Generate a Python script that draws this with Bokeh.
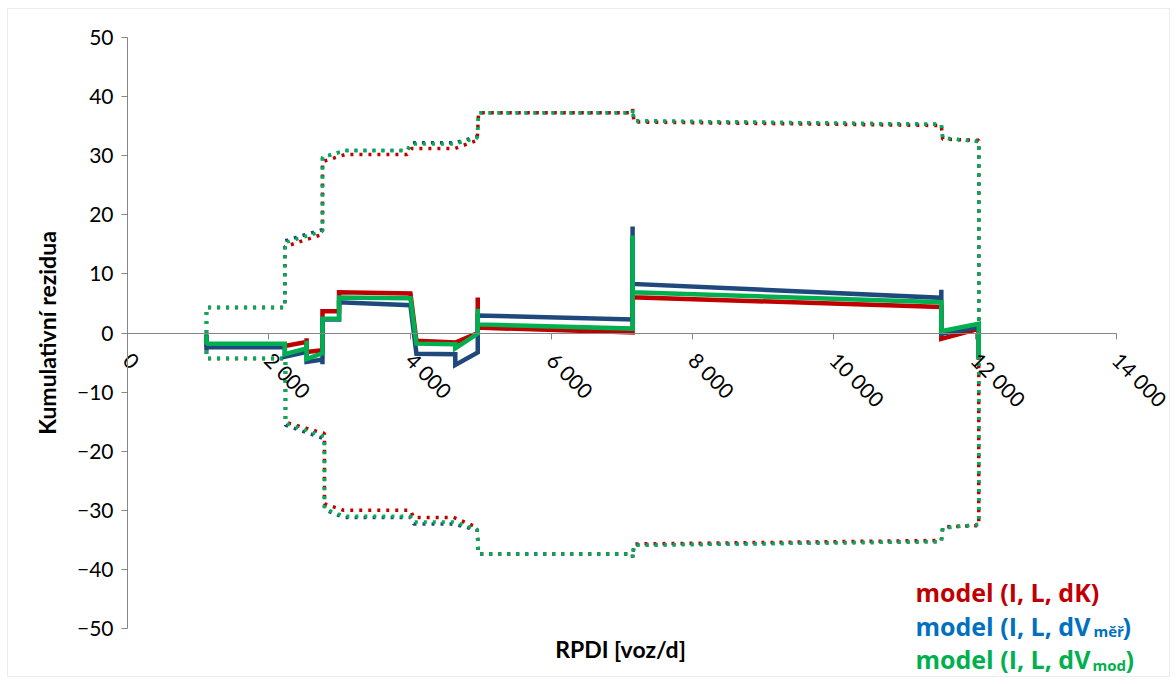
import math

from bokeh.plotting import figure
from bokeh.models import FixedTicker, Label, Range1d, BoxAnnotation
from bokeh.embed import file_html
from bokeh.resources import INLINE

# --- cumulative residuals of the three models (vertices along RPDI) ---
rpdi_model = [1118, 1118, 1118, 2227, 2227, 2535, 2535, 2535, 2760, 2760, 2760,
              2995, 2995, 4005, 4090, 4640, 4640, 4958, 4958, 4958, 7150, 7150,
              7150, 11520, 11520, 11520, 12050, 12050]
res_dk = [-0.4, -2.0, -2.0, -2.0, -2.2, -1.5, -0.9, -3.2, -2.9, -2.9, 3.7,
          3.7, 6.9, 6.7, -1.3, -1.6, -1.6, 0.0, 6.0, 0.9, 0.1, 16.0,
          6.05, 4.4, 4.4, -1.0, 0.7, -4.5]
res_dv_mer = [-0.4, -3.0, -2.4, -2.4, -4.0, -3.2, -2.5, -4.9, -4.5, -5.3, 2.3,
              2.3, 5.2, 4.7, -3.5, -3.6, -5.4, -3.3, 2.95, 2.95, 2.3, 18.0,
              8.3, 5.95, 7.3, -0.15, 1.0, -4.5]
res_dv_mod = [-0.4, -2.0, -1.8, -1.8, -3.6, -2.6, -1.3, -4.4, -3.4, -3.4, 2.4,
              2.4, 6.0, 5.9, -1.8, -1.9, -2.6, -0.1, 4.1, 1.45, 0.75, 16.5,
              6.9, 5.2, 5.2, 0.3, 1.55, -4.4]

# --- upper confidence limits ---
rpdi_upper = [1118, 1118, 2227, 2227, 2760, 2760, 3080, 3960, 4020, 4630, 4950,
              4970, 7150, 7150, 7170, 11520, 11540, 12050, 12050]
upper_dk = [0, 4.3, 4.3, 14.6, 16.7, 29.0, 30.2, 30.2, 31.2, 31.2, 32.6,
            37.25, 37.25, 37.9, 35.7, 35.1, 32.8, 32.6, 0]
upper_dv_mer = [0, 4.3, 4.3, 15.6, 17.5, 29.7, 30.9, 30.9, 32.2, 32.2, 33.2,
                37.25, 37.25, 37.9, 35.9, 35.3, 33.0, 32.4, 0]
upper_dv_mod = [0, 4.3, 4.3, 15.3, 17.2, 29.7, 30.9, 30.9, 32.0, 32.0, 33.0,
                37.25, 37.25, 37.9, 35.9, 35.3, 33.0, 32.4, 0]

# --- lower confidence limits ---
rpdi_lower = [1118, 1118, 2236, 2236, 2788, 2788, 3060, 4005, 4050, 4615, 4950,
              4968, 7150, 7150, 7170, 11520, 11540, 12050, 12050]
lower_dk = [0, -4.3, -4.3, -15.1, -17.0, -28.9, -30.0, -30.0, -31.2, -31.2, -32.9,
            -37.4, -37.4, -38.0, -35.7, -35.1, -32.8, -32.6, 0]
lower_dv_mer = [0, -4.3, -4.3, -15.6, -17.9, -29.9, -31.2, -31.2, -32.3, -32.3, -33.4,
                -37.4, -37.4, -38.0, -35.9, -35.3, -33.0, -32.4, 0]
lower_dv_mod = [0, -4.3, -4.3, -15.3, -17.5, -29.7, -31.0, -31.0, -32.0, -32.0, -33.2,
                -37.4, -37.4, -38.0, -35.9, -35.3, -33.0, -32.4, 0]

# --- axes ---
x_ticks = [0, 2000, 4000, 6000, 8000, 10000, 12000, 14000]
x_tick_labels = ["0", "2 000", "4 000", "6 000", "8 000", "10 000", "12 000", "14 000"]
y_ticks = [-50, -40, -30, -20, -10, 0, 10, 20, 30, 40, 50]

series_names = ["model (I, L, dK)", "model (I, L, dV", "model (I, L, dV"]
series_subscripts = ["", "měř", "mod"]

RED = "#C00000"
BLUE = "#1F497D"
GREEN = "#00B050"
LEGEND_COLORS = [RED, "#0070C0", GREEN]
AXIS_GRAY = "#868686"
FONT = "Lato"
LEGEND_FONT = "Open Sans"

W, H = 1176, 684
# axes box: x 0..14000 over pixels 127..1116, y -50..50 over pixels 628..37
X0_PX, X1_PX = 127, 1116
Y_TOP_PX, Y_BOT_PX = 37, 628
x_per_px = 14000 / (X1_PX - X0_PX)
y_per_px = 100 / (Y_BOT_PX - Y_TOP_PX)
y0_px = (Y_TOP_PX + Y_BOT_PX) / 2


def px_to_x(px):
    return (px - X0_PX) * x_per_px


def py_to_y(py):
    return (y0_px - py) * y_per_px


p = figure(width=W, height=H,
           x_range=Range1d(px_to_x(0), px_to_x(W)),
           y_range=Range1d(py_to_y(H), py_to_y(0)),
           output_backend="svg", toolbar_location=None,
           min_border=0, min_border_left=0, min_border_right=0,
           min_border_top=0, min_border_bottom=0)
p.background_fill_color = "white"
p.border_fill_color = "white"
p.outline_line_color = None
p.xgrid.visible = False
p.ygrid.visible = False

# x axis crossing at zero residual
xa = p.xaxis[0]
xa.fixed_location = 0
xa.bounds = (0, 14000)
xa.ticker = FixedTicker(ticks=x_ticks)
xa.major_label_overrides = {t: s for t, s in zip(x_ticks, x_tick_labels)}
xa.major_label_orientation = -math.pi / 4
xa.axis_line_color = AXIS_GRAY
xa.major_tick_line_color = AXIS_GRAY
xa.major_tick_out = 6
xa.major_tick_in = 0
xa.minor_tick_line_color = None
xa.major_label_text_font = FONT
xa.major_label_text_font_size = "21px"
xa.major_label_text_color = "#000000"
xa.major_label_standoff = 17

# y axis at RPDI = 0
ya = p.yaxis[0]
ya.fixed_location = 0
ya.bounds = (-50, 50)
ya.ticker = FixedTicker(ticks=y_ticks)
ya.axis_line_color = AXIS_GRAY
ya.major_tick_line_color = AXIS_GRAY
ya.major_tick_out = 6
ya.major_tick_in = 0
ya.minor_tick_line_color = None
ya.major_label_text_font = FONT
ya.major_label_text_font_size = "21px"
ya.major_label_text_color = "#000000"
ya.major_label_standoff = 8
ya.axis_label = "Kumulativní rezidua"
ya.axis_label_text_font = FONT
ya.axis_label_text_font_style = "bold"
ya.axis_label_text_font_size = "23px"
ya.axis_label_text_color = "#000000"
ya.axis_label_standoff = 13

# x axis title
p.add_layout(Label(x=px_to_x(620), y=py_to_y(648), text="RPDI [voz/d]",
                   text_font=FONT, text_font_style="bold", text_font_size="23px",
                   text_color="#000000", text_align="center", text_baseline="middle"))

# confidence bands (dotted)
for xs, ys, c in [(rpdi_upper, upper_dk, RED), (rpdi_upper, upper_dv_mer, BLUE),
                  (rpdi_upper, upper_dv_mod, GREEN),
                  (rpdi_lower, lower_dk, RED), (rpdi_lower, lower_dv_mer, BLUE),
                  (rpdi_lower, lower_dv_mod, GREEN)]:
    p.line(xs, ys, line_color=c, line_width=3.5, line_dash="3 6", line_cap="butt")

# cumulative residual lines
for ys, c in [(res_dk, RED), (res_dv_mer, BLUE), (res_dv_mod, GREEN)]:
    p.line(rpdi_model, ys, line_color=c, line_width=4.5, line_join="miter")

# legend as coloured text with subscripts
legend_baselines = [591, 625, 658]
sub_x = [None, 1093, 1092]
sub_drop = [0, 5, 6]
close_x = [None, 1122, 1125]
for i, (name, sub, col, base) in enumerate(zip(series_names, series_subscripts,
                                               LEGEND_COLORS, legend_baselines)):
    p.add_layout(Label(x=px_to_x(915), y=py_to_y(base), text=name,
                       text_font=LEGEND_FONT, text_font_style="bold", text_font_size="25px",
                       text_color=col, text_align="left", text_baseline="alphabetic"))
    if sub:
        p.add_layout(Label(x=px_to_x(sub_x[i]), y=py_to_y(base + sub_drop[i]), text=sub,
                           text_font=LEGEND_FONT, text_font_style="bold", text_font_size="15px",
                           text_color=col, text_align="left", text_baseline="alphabetic"))
        p.add_layout(Label(x=px_to_x(close_x[i]), y=py_to_y(base), text=")",
                           text_font=LEGEND_FONT, text_font_style="bold", text_font_size="25px",
                           text_color=col, text_align="left", text_baseline="alphabetic"))

# chart border
p.add_layout(BoxAnnotation(left=px_to_x(7), right=px_to_x(1169),
                           top=py_to_y(8), bottom=py_to_y(676),
                           fill_color=None, line_color="#BFBFBF", line_width=1))

open("out.html", "w").write(file_html(p, INLINE))
